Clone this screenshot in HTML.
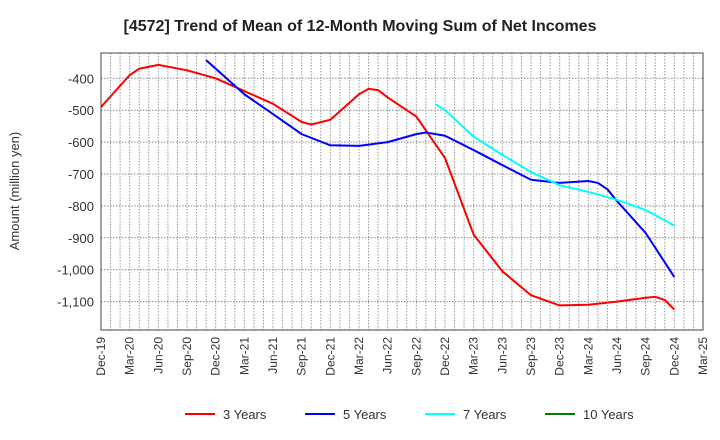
<!DOCTYPE html>
<html><head><meta charset="utf-8"><style>
body{margin:0;background:#fff;}
svg{display:block;font-family:"Liberation Sans",Arial,sans-serif;}
</style></head><body>
<svg id="chart" width="720" height="440" xmlns="http://www.w3.org/2000/svg">
<text x="360" y="31" text-anchor="middle" font-size="16" font-weight="bold" fill="#222">[4572]  Trend of Mean of 12-Month Moving Sum of Net Incomes</text>
<text transform="translate(19,191) rotate(-90)" text-anchor="middle" font-size="13" fill="#333">Amount (million yen)</text>
<g id="grid"></g><g id="series"></g><g id="axes"></g>
<g id="legend"></g>
</svg>
<script>
const xTickLabels=["Dec-19","Mar-20","Jun-20","Sep-20","Dec-20","Mar-21","Jun-21","Sep-21","Dec-21","Mar-22","Jun-22","Sep-22","Dec-22","Mar-23","Jun-23","Sep-23","Dec-23","Mar-24","Jun-24","Sep-24","Dec-24","Mar-25"];
const yTicks=[-400,-500,-600,-700,-800,-900,-1000,-1100];
const seriesNames=["3 Years","5 Years","7 Years","10 Years"];
const seriesColors=["#ff0000","#0000ff","#00ffff","#008000"];
// month offsets from Dec-19
const m3=[0,3,4,6,9,12,15,18,21,22,24,27,28,29,30,33,36,39,42,45,48,51,54,57,58,59,60];
const v3=[-490,-390,-370,-358,-375,-400,-440,-480,-537,-545,-530,-450,-433,-437,-460,-520,-650,-890,-1005,-1080,-1112,-1110,-1100,-1088,-1085,-1095,-1125,-1173];
const m5=[11,15,18,21,24,27,30,33,34,36,39,42,45,48,51,52,53,54,57,60];
const v5=[-343,-450,-512,-575,-610,-612,-600,-575,-570,-580,-625,-672,-718,-728,-722,-728,-748,-785,-885,-1023];
const m7=[35,36,39,42,45,48,51,54,57,60];
const v7=[-481,-500,-583,-640,-694,-735,-756,-781,-813,-862];
const m10=[];const v10=[];
v3.splice(16,0);m3.splice(16,0);
const L=101,R=703,T=53,B=330;
const x=m=>L+m*(R-L)/63;
const y=v=>78.3+(-400-v)*0.319;
const NS="http://www.w3.org/2000/svg";
function mk(t,a,p){const e=document.createElementNS(NS,t);for(const k in a)e.setAttribute(k,a[k]);p.appendChild(e);return e;}
const grid=document.getElementById('grid'),axes=document.getElementById('axes'),ser=document.getElementById('series'),leg=document.getElementById('legend');
for(let m=1;m<63;m++){const l=mk('line',{x1:x(m),x2:x(m),y1:T,y2:B,stroke:'#999','stroke-width':1,'stroke-dasharray':'1.5,1.5'},grid);

}
yTicks.forEach(v=>{const l=mk('line',{x1:L,x2:R,y1:y(v),y2:y(v),stroke:'#888','stroke-width':1,'stroke-dasharray':'1.5,1.5'},grid);


const t=mk('text',{x:L-7,y:y(v)+5,'text-anchor':'end','font-size':13,fill:'#333'},axes);t.textContent=v.toLocaleString('en-US');

});
xTickLabels.forEach((s,i)=>{const px=x(i*3);const t=mk('text',{transform:`translate(${px+4},337) rotate(-90)`,'text-anchor':'end','font-size':12,fill:'#333'},axes);t.textContent=s;

});
const frame=mk('rect',{x:L,y:T,width:R-L,height:B-T,fill:'none',stroke:'#444','stroke-width':1},axes);


[[m3,v3],[m5,v5],[m7,v7],[m10,v10]].forEach((d,i)=>{if(!d[0].length)return;
const p=mk('polyline',{points:d[0].map((m,j)=>x(m)+','+y(d[1][j])).join(' '),fill:'none',stroke:seriesColors[i],'stroke-width':2,'stroke-linejoin':'round'},ser);

});
const lx=[185,305,425,545];
seriesNames.forEach((n,i)=>{const l=mk('line',{x1:lx[i],x2:lx[i]+30,y1:414,y2:414,stroke:seriesColors[i],'stroke-width':2},leg);


const t=mk('text',{x:lx[i]+38,y:419,'font-size':13,fill:'#333'},leg);t.textContent=n;

});
</script>
</body></html>
